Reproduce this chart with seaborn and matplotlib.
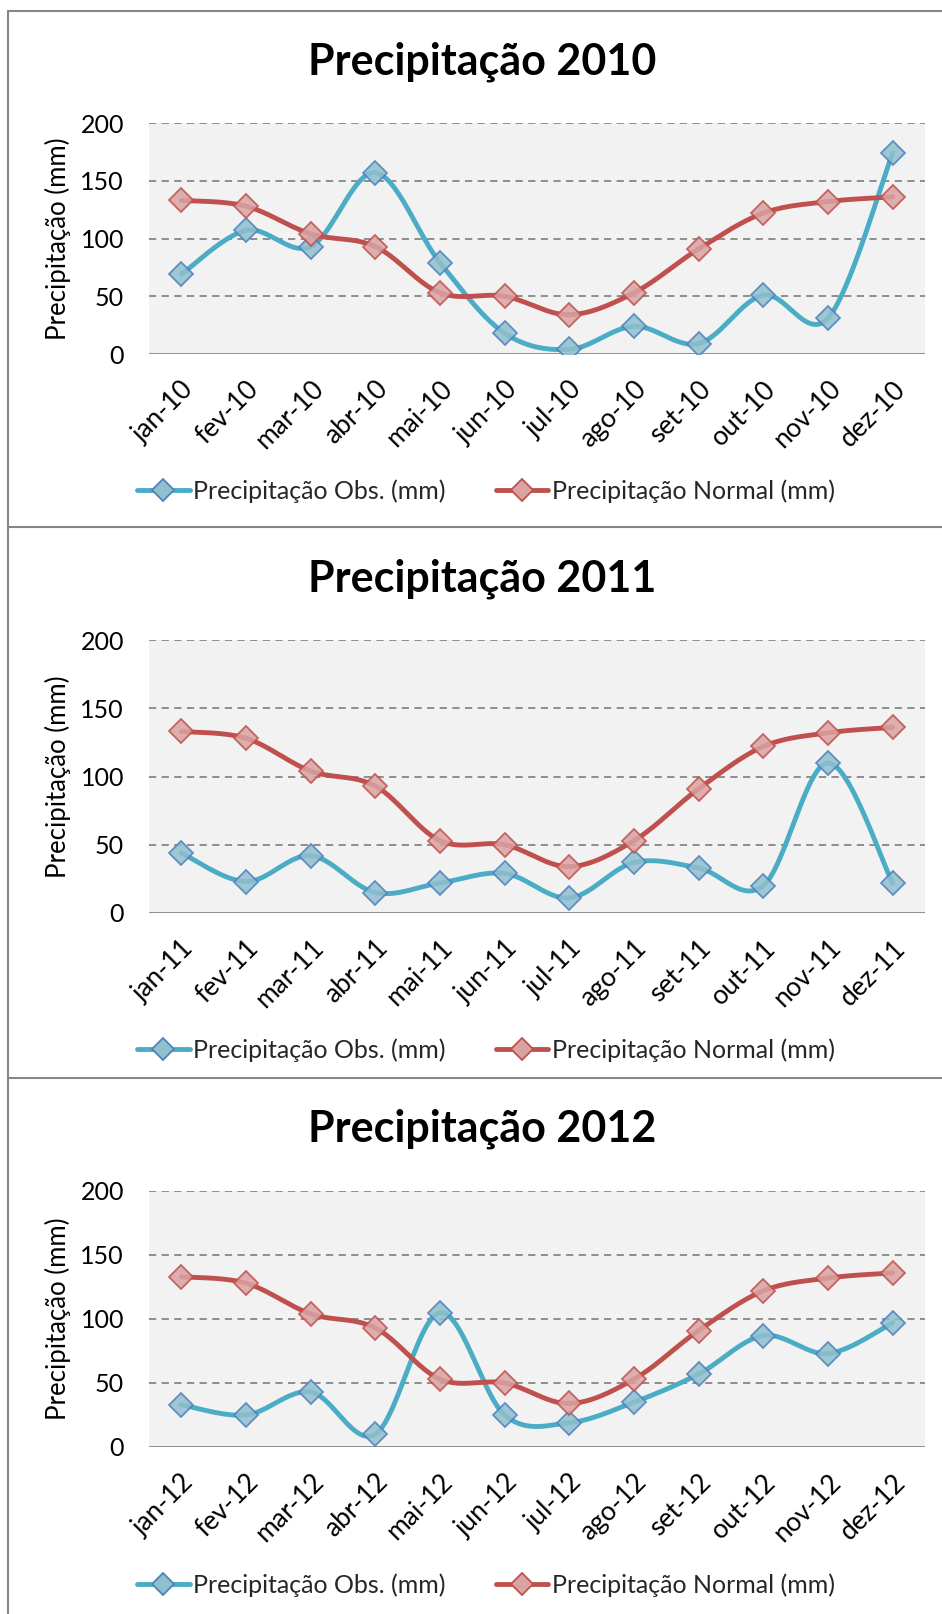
"""
Precipitação observada vs normal, 2010-2012 (three stacked Excel-style panels)
"""
import numpy as np
import pandas as pd
import matplotlib
matplotlib.use("Agg")
import matplotlib.pyplot as plt
from matplotlib.lines import Line2D
import seaborn as sns

# Data (mm)
meses = ["jan", "fev", "mar", "abr", "mai", "jun", "jul", "ago", "set", "out", "nov", "dez"]
anos = ["2010", "2011", "2012"]

obs_2010 = [69, 107, 93, 157, 79, 18, 4, 24, 9, 51, 31, 174]
obs_2011 = [44, 23, 42, 15, 22, 29, 11, 37, 33, 20, 110, 22]
obs_2012 = [33, 25, 43, 10, 105, 25, 19, 35, 57, 87, 73, 97]
normal = [133, 128, 104, 93, 53, 50, 34, 53, 91, 122, 132, 136]

obs_por_ano = [obs_2010, obs_2011, obs_2012]

COR_OBS = "#4BACC6"
COR_NORMAL = "#C0504D"
FONTE = ["Lato", "DejaVu Sans"]

W, H = 942, 1614
# axes in pixels: (y of the 200 line, y of the 0 line)
eixos_px = [(123, 354), (640, 913), (1191, 1447)]
titulo_y = [62, 579, 1129]
legenda_y = [491, 1050, 1585]
bordas_y = [11, 527, 1078]


def suavizar(y, n=30):
    """Excel-like smoothed line (Catmull-Rom Bezier)"""
    y = np.asarray(y, dtype=float)
    x = np.arange(len(y), dtype=float)
    p = np.column_stack([x, y])
    ext = np.vstack([p[0], p, p[-1]])
    t = np.linspace(0, 1, n)[:, None]
    segs = []
    for i in range(len(p) - 1):
        p0, p1, p2, p3 = ext[i], ext[i + 1], ext[i + 2], ext[i + 3]
        c1 = p1 + (p2 - p0) / 6
        c2 = p2 - (p3 - p1) / 6
        b = ((1 - t) ** 3) * p1 + 3 * ((1 - t) ** 2) * t * c1 + 3 * (1 - t) * t ** 2 * c2 + t ** 3 * p2
        segs.append(b if i == 0 else b[1:])
    curva = np.vstack(segs)
    return curva[:, 0], curva[:, 1]


sns.set_theme(style="white")
plt.rcParams["font.family"] = FONTE

fig = plt.figure(figsize=(W / 100, H / 100), dpi=100)

# panel borders
for yb in bordas_y:
    fig.add_artist(Line2D([8 / W, 1], [1 - yb / H, 1 - yb / H], transform=fig.transFigure,
                          color="#868686", lw=1.5))
fig.add_artist(Line2D([8 / W, 8 / W], [0, 1 - bordas_y[0] / H], transform=fig.transFigure,
                      color="#868686", lw=1.5))

faces = {"obs": "#8FC0CE", "normal": "#D9A3A2"}
bordas = {"obs": "#4F81BD", "normal": "#C0504D"}
cores = {"obs": COR_OBS, "normal": COR_NORMAL}

for k, ano in enumerate(anos):
    topo, base = eixos_px[k]
    ax = fig.add_axes([149 / W, 1 - base / H, 776 / W, (base - topo) / H])
    ax.set_facecolor("#F2F2F2")

    sufixo = ano[-2:]
    rotulos = [f"{m}-{sufixo}" for m in meses]
    df = pd.DataFrame({"pos": np.arange(12), "obs": obs_por_ano[k], "normal": normal})

    for col in ["obs", "normal"]:
        xs, ys = suavizar(df[col])
        sns.lineplot(x=xs, y=ys, ax=ax, color=cores[col], lw=3.5, sort=False, zorder=3)
        ax.plot(df["pos"], df[col], ls="none", marker="D", ms=12.5, mfc=faces[col],
                mec=bordas[col], mew=1.3, alpha=0.85, zorder=4)

    ax.set_xlim(-0.5, 11.5)
    ax.set_ylim(0, 200)
    ax.set_yticks([0, 50, 100, 150, 200])
    for v in [50, 100, 150, 200]:
        ax.axhline(v, color="#868686", lw=1.3, ls=(0, (4, 3)), zorder=1)
    ax.axhline(0, color="#868686", lw=2, zorder=2)
    for s in ax.spines.values():
        s.set_visible(False)
    ax.set_xticks(df["pos"])
    ax.set_xticklabels(rotulos, rotation=45, ha="right", rotation_mode="anchor")
    ax.tick_params(axis="x", length=0, pad=16, labelsize=19, labelcolor="black")
    ax.tick_params(axis="y", length=0, pad=18, labelsize=18, labelcolor="black")
    ax.set_ylabel("Precipitação (mm)", fontsize=18.5, color="black")
    ax.yaxis.set_label_coords(-0.10, 0.5)

    fig.text(0.512, 1 - titulo_y[k] / H, f"Precipitação {ano}", ha="center", va="center",
             fontsize=31, fontweight="bold", color="black")

    handles = [
        Line2D([], [], color=cores[c], lw=3.5, marker="D", ms=11, mfc=faces[c], mec=bordas[c], mew=1.3)
        for c in ["obs", "normal"]
    ]
    fig.legend(handles, ["Precipitação Obs. (mm)", "Precipitação Normal (mm)"],
               loc="center", bbox_to_anchor=(0.516, 1 - legenda_y[k] / H), ncol=2, frameon=False,
               fontsize=18, handlelength=2.1, handletextpad=0.15, columnspacing=2.0)

fig.savefig("out.png", dpi=100)
